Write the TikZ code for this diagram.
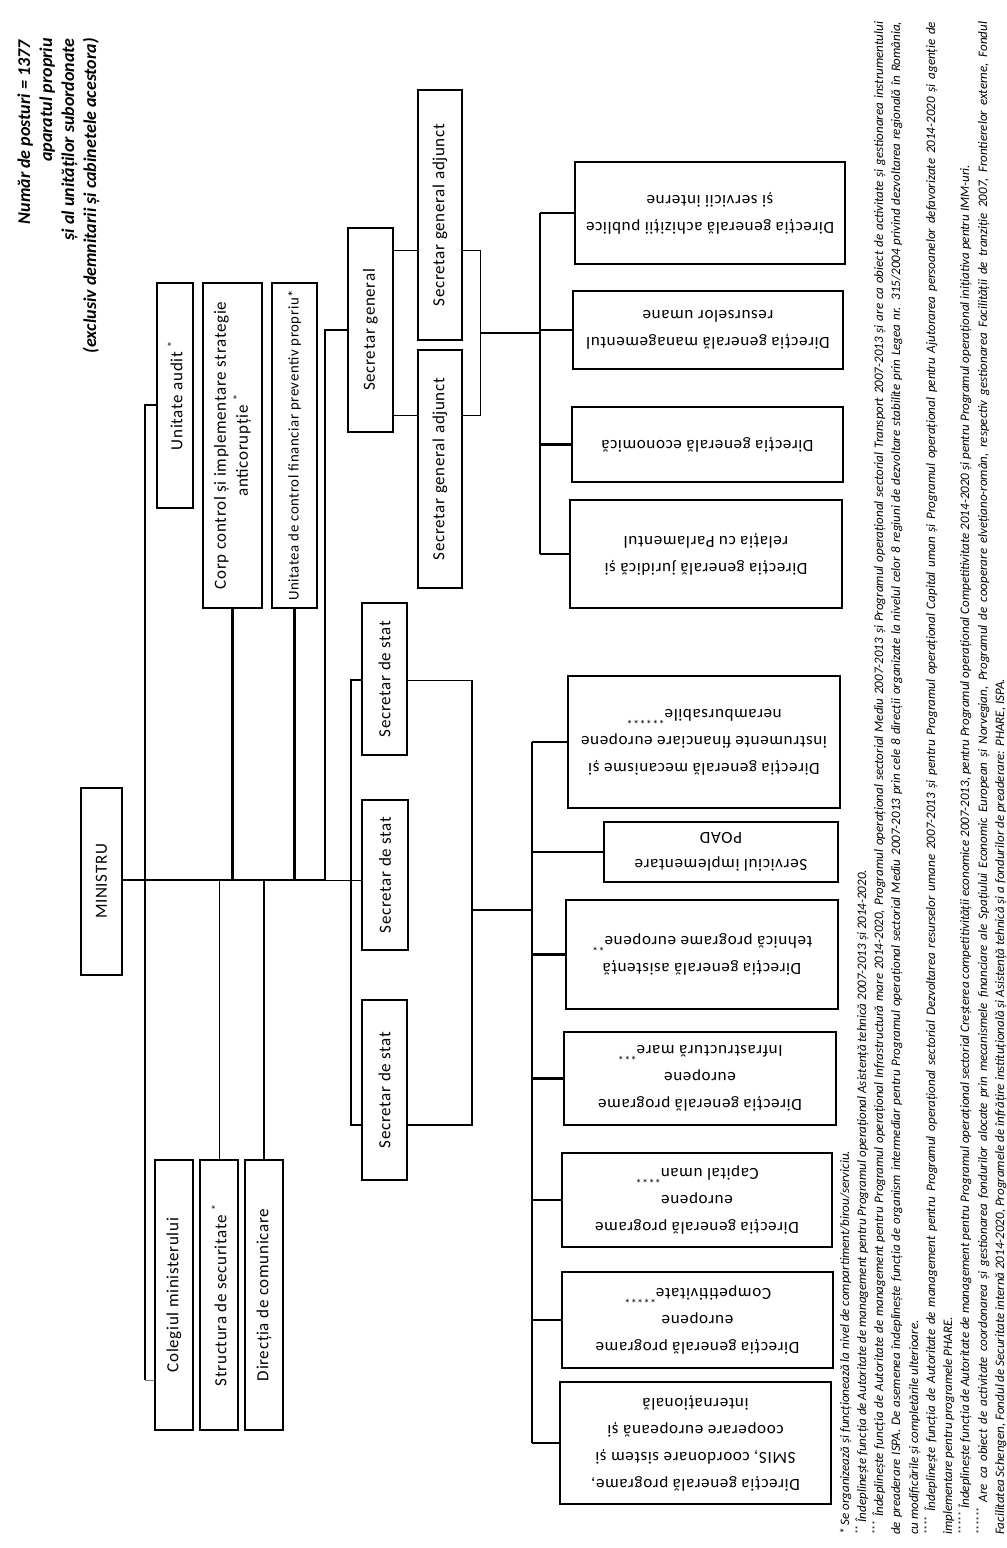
\documentclass[tikz,border=0pt]{standalone}
\usepackage{fontspec}
\setmainfont{Carlito}
\newfontfamily\boxfont[LetterSpace=4]{Carlito}
\newcommand\obox[6]{\node[#6, minimum width={#4-#2}, minimum height={#5-#3}] (#1) at ({(#2+#4)/2},{(#3+#5)/2}) {};}
\newcommand\supast{\textsuperscript{*}}
\begin{document}
\begin{tikzpicture}[x=1pt,y=-1pt,
  bx/.style={draw, line width=2.2pt, inner sep=0pt},
  bxthin/.style={draw, line width=1.5pt, inner sep=0pt},
  tv/.style={rotate=90, align=center, font=\boxfont\fontsize{17}{22}\selectfont, inner sep=0pt},
  tvs/.style={rotate=90, align=center, font=\boxfont\fontsize{14.8}{22}\selectfont, inner sep=0pt},
  th/.style={rotate=180, align=center, font=\boxfont\fontsize{17}{27}\selectfont, inner sep=0pt},
  thk/.style={line width=2.2pt},
  thn/.style={line width=1pt},
  fn/.style={rotate=90, anchor=base west, inner sep=0pt, font=\fontsize{13}{15}\itshape\selectfont},
  ttl/.style={rotate=90, anchor=base east, inner sep=0pt, font=\fontsize{18}{22}\bfseries\itshape\selectfont}]
\useasboundingbox (0,0) rectangle (1007,1548);

% ---------- title ----------
\node[ttl] (t1) at (30,40) {Număr de posturi = 1377};
\node[ttl] (t2) at (52,38) {aparatul propriu};
\node[ttl] (t3) at (74,38) {și al unităților subordonate};
\node[ttl] (t4) at (96,38) {(exclusiv demnitarii și cabinetele acestora)};

% ---------- boxes ----------
\obox{min}{81}{788}{122}{975}{bx}
\node[tv] (mint) at (min) {MINISTRU};
\obox{audit}{157}{283}{193}{508}{bxthin}
\node[tv] (auditt) at (audit) {Unitate audit \supast};
\obox{corp}{203}{283}{262}{608}{bx}
\node[tv] (corpt) at (corp) {Corp control și implementare strategie\\anticorupție \supast};
\obox{ucf}{272}{283}{317}{608}{bx}
\node[tvs] (ucft) at (ucf) {Unitatea de control financiar preventiv propriu*};
\obox{sg}{348}{228}{393}{432}{bx}
\node[tv] (sgt) at (sg) {Secretar general};
\obox{sga}{418}{90}{462}{340}{bx}
\node[tv] (sgat) at (sga) {Secretar general adjunct};
\obox{sgb}{418}{350}{462}{588}{bx}
\node[tv] (sgbt) at (sgb) {Secretar general adjunct};

\obox{ss1}{362}{603}{407}{755}{bx}
\node[tv] (ss1t) at (ss1) {Secretar de stat};
\obox{ss2}{362}{800}{408}{950}{bx}
\node[tv] (ss2t) at (ss2) {Secretar de stat};
\obox{ss3}{362}{1000}{407}{1180}{bx}
\node[tv] (ss3t) at (ss3) {Secretar de stat};

\obox{col}{155}{1160}{193}{1430}{bx}
\node[tv] (colt) at (col) {Colegiul ministerului};
\obox{sec}{200}{1160}{238}{1430}{bx}
\node[tv] (sect) at (sec) {Structura de securitate \supast};
\obox{com}{245}{1160}{283}{1430}{bx}
\node[tv] (comt) at (com) {Direcția de comunicare};

\obox{dga}{575}{162}{845}{264}{bx}
\node[th] (dgat) at (dga) {Direcția generală achiziții publice\\și servicii interne};
\obox{dgr}{573}{291}{843}{369}{bx}
\node[th] (dgrt) at (dgr) {Direcția generală managementul\\resurselor umane};
\obox{dge}{572}{407}{843}{482}{bx}
\node[th] (dget) at (dge) {Direcția generală economică};
\obox{dgj}{570}{500}{842}{608}{bx}
\node[th] (dgjt) at (dgj) {Direcția generală juridică și\\relația cu Parlamentul};

\obox{dgm}{568}{676}{840}{808}{bx}
\node[th] (dgmt) at (dgm) {Direcția generală mecanisme și\\instrumente financiare europene\\nerambursabile\textsuperscript{******}};
\obox{poad}{604}{822}{838}{882}{bx}
\node[th] (poadt) at (poad) {Serviciul implementare\\POAD};
\obox{dat}{566}{900}{838}{1009}{bx}
\node[th] (datt) at (dat) {Direcția generală asistență\\tehnică programe europene\textsuperscript{**}};
\obox{dim}{564}{1032}{836}{1125}{bx}
\node[th] (dimt) at (dim) {Direcția generală programe\\europene\\Infrastructură mare\textsuperscript{***}};
\obox{dcu}{562}{1153}{832}{1247}{bx}
\node[th] (dcut) at (dcu) {Direcția generală programe\\europene\\Capital uman\textsuperscript{****}};
\obox{dco}{562}{1272}{833}{1368}{bx}
\node[th] (dcot) at (dco) {Direcția generală programe\\europene\\Competitivitate\textsuperscript{*****}};
\obox{smis}{560}{1382}{831}{1504}{bx}
\node[th] (smist) at (smis) {Direcția generală programe,\\SMIS, coordonare sistem și\\cooperare europeană și\\internațională};

% ---------- connectors ----------
\coordinate (hA) at (325,880);
\draw[thk] (min.east |- hA) -- (hA);
\draw[thn] (hA) -- (ss2.west |- hA);

\coordinate (k1) at (145,405);
\coordinate (k2) at (145,1380);
\draw[thk] (audit.west |- k1) -- (k1) -- (k2);
\draw[thn, gray] (k2) -- (col.west |- k2);

\draw[thk] (corp.south) -- (corp.south |- hA);
\draw[thk] (ucf.south) -- (ucf.south |- hA);
\draw[thn] (sec.north |- hA) -- (sec.north);
\draw[thk] (com.north |- hA) -- (com.north);
\draw[thk] (hA) -- (hA |- sg.west) -- (sg.west);

\coordinate (su) at (393,250);
\coordinate (sl) at (393,415);
\draw[thn] (sg.east |- su) -- (sga.west |- su);
\draw[thn] (sg.east |- sl) -- (sgb.west |- sl);
\coordinate (r1) at (480,250);
\coordinate (r2) at (480,415);
\draw[thn] (sga.east |- r1) -- (r1) -- (r2) -- (sgb.east |- r2);
\coordinate (rm) at (480,333);
\coordinate (v1) at (540,333);
\draw[thk] (rm) -- (v1);
\draw[thk] (v1 |- dga.west) -- (v1 |- dgj.west);
\foreach \b in {dga,dgr,dge,dgj} \draw[thk] (v1 |- \b.west) -- (\b.west);

\coordinate (bl1) at (351,680);
\coordinate (bl2) at (351,1125);
\coordinate (br1) at (472,680);
\coordinate (br2) at (472,1125);
\draw[thk] (ss1.west |- bl1) -- (bl1) -- (bl2) -- (ss3.west |- bl2);
\draw[thn] (ss1.east |- br1) -- (br1);
\draw[thk] (br1) -- (br2) -- (ss3.east |- br2);
\coordinate (bm) at (472,910);
\coordinate (v2) at (532,910);
\draw[thk] (bm) -- (v2);
\draw[thk] (v2 |- dgm.west) -- (v2 |- smis.west);
\foreach \b in {dgm,poad,dat,dim,dcu,dco,smis} \draw[thk] (v2 |- \b.west) -- (\b.west);

% ---------- footnotes ----------
\def\fl{1513pt}
\node[fn] (f1) at (849,1535) {* Se organizează și funcționează la nivel de compartiment/birou/serviciu.};
\node[fn] (f2) at (866,1535) {\textsuperscript{**} Îndeplinește funcția de Autoritate de management pentru Programul operațional Asistență tehnică 2007-2013 și 2014-2020.};
\node[fn] (f3) at (883,1535) {\makebox[\fl][s]{\textsuperscript{***} Îndeplinește funcția de Autoritate de management pentru Programul operațional Infrastructură mare 2014-2020, Programul operațional sectorial Mediu 2007-2013 și Programul operațional sectorial Transport 2007-2013 și are ca obiect de activitate și gestionarea instrumentului}};
\node[fn] (f4) at (900,1535) {\makebox[\fl][s]{de preaderare ISPA. De asemenea îndeplinește funcția de organism intermediar pentru Programul operațional sectorial Mediu 2007-2013 prin cele 8 direcții organizate la nivelul celor 8 regiuni de dezvoltare stabilite prin Legea nr. 315/2004 privind dezvoltarea regională în România,}};
\node[fn] (f5) at (918,1535) {cu modificările și completările ulterioare.};
\node[fn] (f6) at (935,1535) {\makebox[\fl][s]{\textsuperscript{****} Îndeplinește funcția de Autoritate de management pentru Programul operațional sectorial Dezvoltarea resurselor umane 2007-2013 și pentru Programul operațional Capital uman și Programul operațional pentru Ajutorarea persoanelor defavorizate 2014-2020 și agenție de}};
\node[fn] (f7) at (952,1535) {implementare pentru programele PHARE.};
\node[fn] (f8) at (969,1535) {\textsuperscript{*****} Îndeplinește funcția de Autoritate de management pentru Programul operațional sectorial Creșterea competitivității economice 2007-2013, pentru Programul operațional Competitivitate 2014-2020 și pentru Programul operațional inițiativa pentru IMM-uri.};
\node[fn] (f9) at (987,1535) {\makebox[\fl][s]{\textsuperscript{******} Are ca obiect de activitate coordonarea și gestionarea fondurilor alocate prin mecanismele financiare ale Spațiului Economic European și Norvegian, Programul de cooperare elvețiano-român, respectiv gestionarea Facilității de tranziție 2007, Frontierelor externe, Fondul}};
\node[fn] (f10) at (1004,1535) {Facilitatea Schengen, Fondul de Securitate internă 2014-2020, Programele de înfrățire instituțională și Asistență tehnică și a fondurilor de preaderare: PHARE, ISPA.};
\end{tikzpicture}
\end{document}
